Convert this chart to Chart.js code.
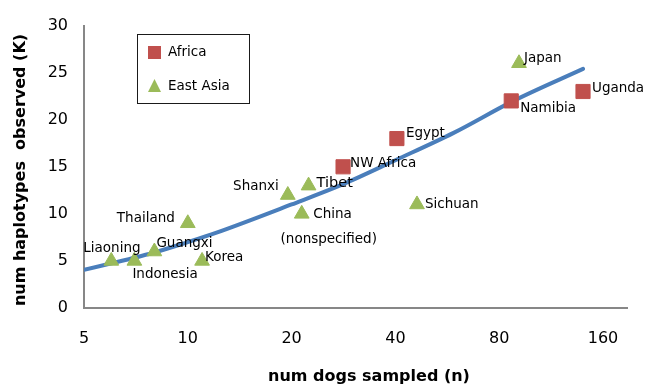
<!DOCTYPE html>
<html><head><meta charset="utf-8">
<script src="https://cdn.jsdelivr.net/npm/chart.js@4/dist/chart.umd.min.js"></script>
<style>html,body{margin:0;padding:0;background:#fff;}#wrap{width:648px;height:385px;position:relative;}</style>
</head><body><div id="wrap"><canvas id="c" width="648" height="385"></canvas></div>
<script>
// ---- data ----
const africaNames = ['NW Africa', 'Egypt', 'Namibia', 'Uganda'];
const africaN = [28.2, 40.4, 86.7, 140];
const africaK = [15, 18, 22, 23];

const asiaNames = ['Liaoning', 'Indonesia', 'Guangxi', 'Korea', 'Thailand', 'Shanxi', 'Tibet', 'China', 'Sichuan', 'Japan'];
const asiaN = [6, 7, 8, 11, 10, 19.5, 22.4, 21.4, 46.2, 91.3];
const asiaK = [5, 5, 6, 5, 9, 12, 13, 10, 11, 26];

const trendN = [5, 8, 10, 12, 20, 28, 40, 59, 88, 140];
const trendK = [4.05, 5.9, 7.0, 7.95, 11.0, 13.1, 15.7, 18.6, 22.0, 25.4];

const xTicks = [5, 10, 20, 40, 80, 160];
const yTicks = [0, 5, 10, 15, 20, 25, 30];

const seriesLabels = ['Africa', 'East Asia'];
const xTitle = 'num dogs sampled (n)';
const yTitle = 'num haplotypes  observed (K)';

// ---- styles ----
const FONT = '"DejaVu Sans", sans-serif';
const RED = '#C0504D', GREEN = '#9BBB59', BLUE = '#4A7EBB', AXIS = '#878787';
// label placement (pixel offsets from the point), style only
const labelStyle = {
  'NW Africa': {dx: 7, dy: -3, align: 'left'},
  'Egypt': {dx: 9, dy: -5, align: 'left'},
  'Namibia': {dx: 9, dy: 8, align: 'left'},
  'Uganda': {dx: 9, dy: -3, align: 'left'},
  'Liaoning': {dx: -28, dy: -12, align: 'left'},
  'Indonesia': {dx: -2, dy: 14, align: 'left'},
  'Guangxi': {dx: 2, dy: -8, align: 'left'},
  'Korea': {dx: 3, dy: -3, align: 'left'},
  'Thailand': {dx: -13, dy: -5, align: 'right'},
  'Shanxi': {dx: -9, dy: -9, align: 'right'},
  'Tibet': {dx: 8, dy: -2, align: 'left', size: 14.5},
  'China': {dx: 11.5, dy: 1, align: 'left', extra: '(nonspecified)', edx: 27, edy: 26},
  'Sichuan': {dx: 8, dy: 0, align: 'left'},
  'Japan': {dx: 5, dy: -5, align: 'left'}
};

const toPts = (xs, ys) => xs.map((x, i) => ({x: x, y: ys[i]}));

const overlay = {
  id: 'overlay',
  beforeDraw(chart) {
    const ctx = chart.ctx;
    ctx.save(); ctx.fillStyle = '#fff'; ctx.fillRect(0, 0, chart.width, chart.height); ctx.restore();
  },
  afterDraw(chart) {
    const ctx = chart.ctx;
    ctx.save();
    // point labels
    ctx.fillStyle = '#000';
    ctx.textBaseline = 'middle';
    const drawLabels = (dsIndex, names) => {
      const meta = chart.getDatasetMeta(dsIndex);
      meta.data.forEach((el, i) => {
        const s = labelStyle[names[i]];
        ctx.font = (s.size || 13.5) + 'px ' + FONT;
        ctx.textAlign = s.align;
        ctx.fillText(names[i], el.x + s.dx, el.y + s.dy);
        if (s.extra) {
          ctx.textAlign = 'center';
          ctx.fillText(s.extra, el.x + s.edx, el.y + s.edy);
        }
      });
    };
    drawLabels(0, africaNames);
    drawLabels(1, asiaNames);

    // legend box
    ctx.lineWidth = 1;
    ctx.strokeStyle = '#1a1a1a';
    ctx.strokeRect(137.5, 34.5, 112, 69);
    ctx.fillStyle = RED;
    ctx.fillRect(148, 46, 13, 13);
    ctx.fillStyle = GREEN;
    ctx.beginPath();
    ctx.moveTo(154.5, 79); ctx.lineTo(161, 92); ctx.lineTo(148, 92); ctx.closePath(); ctx.fill();
    ctx.fillStyle = '#000';
    ctx.font = '13.5px ' + FONT;
    ctx.textAlign = 'left';
    ctx.fillText(seriesLabels[0], 168, 52.5);
    ctx.fillText(seriesLabels[1], 168, 86);

    // axis titles
    ctx.font = 'bold 16px ' + FONT;
    ctx.textAlign = 'center';
    ctx.fillText(xTitle, 369, 377);
    ctx.translate(21, 170);
    ctx.rotate(-Math.PI / 2);
    ctx.fillText(yTitle, 0, 0);
    ctx.restore();
  }
};

new Chart(document.getElementById('c'), {
  type: 'scatter',
  data: {
    datasets: [
      {label: seriesLabels[0], data: toPts(africaN, africaK), pointStyle: 'rect', pointRadius: 10, pointHoverRadius: 10,
       backgroundColor: RED, borderColor: RED, borderWidth: 1, order: 1},
      {label: seriesLabels[1], data: toPts(asiaN, asiaK), pointStyle: 'triangle', pointRadius: 8.5, pointHoverRadius: 8.5,
       backgroundColor: GREEN, borderColor: GREEN, borderWidth: 1, order: 2},
      {label: 'trend', data: toPts(trendN, trendK), showLine: true, pointRadius: 0, borderColor: BLUE, borderWidth: 4,
       borderCapStyle: 'round', cubicInterpolationMode: 'monotone', fill: false, order: 3}
    ]
  },
  options: {
    responsive: false,
    animation: false,
    devicePixelRatio: 1,
    layout: {padding: {left: 0, right: 21, top: 20, bottom: 0}},
    plugins: {legend: {display: false}, tooltip: {enabled: false}},
    events: [],
    scales: {
      x: {
        type: 'logarithmic', min: 5, max: 187.8,
        afterBuildTicks: s => { s.ticks = xTicks.map(v => ({value: v})); },
        afterFit: s => { s.height = 77; },
        grid: {display: false, drawTicks: false},
        border: {display: true, color: AXIS, width: 2},
        ticks: {callback: v => String(v), autoSkip: false, maxRotation: 0, color: '#000', padding: 21,
                font: {family: FONT, size: 16}},
        title: {display: false}
      },
      y: {
        type: 'linear', min: 0, max: 30,
        afterBuildTicks: s => { s.ticks = yTicks.map(v => ({value: v})); },
        afterFit: s => { s.width = 84; },
        grid: {display: false, drawTicks: false},
        border: {display: true, color: AXIS, width: 2},
        ticks: {color: '#000', padding: 16, font: {family: FONT, size: 16}},
        title: {display: false}
      }
    }
  },
  plugins: [overlay]
});
</script></body></html>
